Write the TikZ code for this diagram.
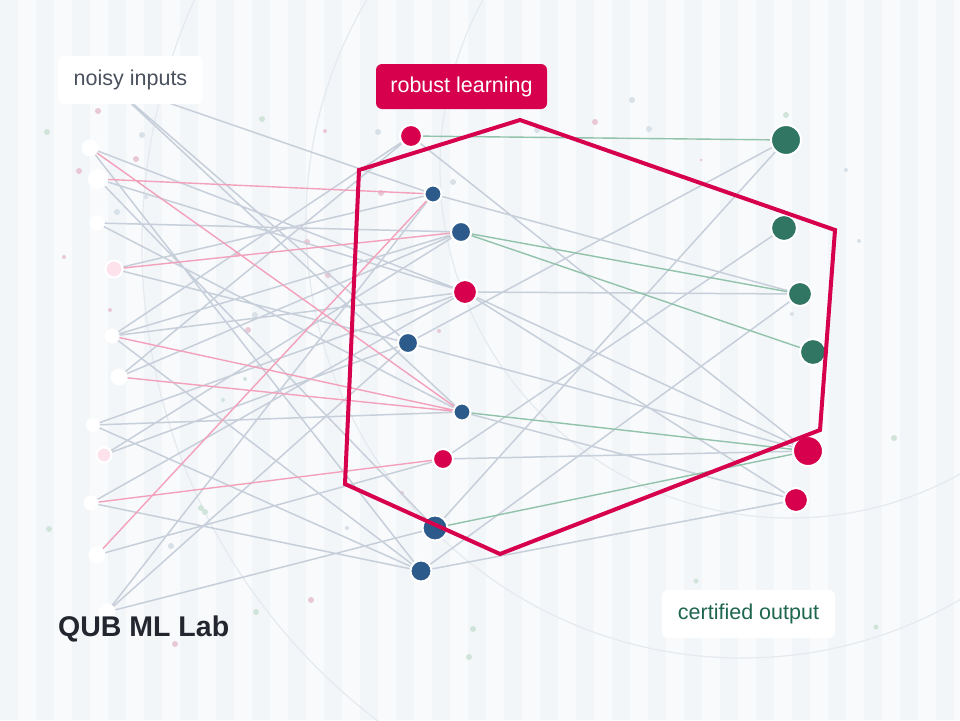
\documentclass[tikz,border=0pt]{standalone}
\usepackage{fontspec}
\setmainfont{Liberation Sans}
\usepackage{xcolor}
\usepackage{tikz}
\usetikzlibrary{backgrounds}

\pgfdeclarelayer{wires}
\pgfsetlayers{background,wires,main}

\definecolor{bgcol}{RGB}{243,246,249}
\definecolor{stripecol}{RGB}{248,250,252}
\definecolor{arccol}{RGB}{229,234,239}
\definecolor{crimson}{RGB}{214,0,76}
\definecolor{navy}{RGB}{44,90,138}
\definecolor{pine}{RGB}{48,118,99}
\definecolor{blush}{RGB}{253,226,235}
\definecolor{edgegray}{RGB}{199,207,218}
\definecolor{edgepink}{RGB}{243,160,186}
\definecolor{edgegreen}{RGB}{145,194,170}
\definecolor{dotpink}{RGB}{232,200,212}
\definecolor{dotgreen}{RGB}{208,228,217}
\definecolor{dotblue}{RGB}{216,224,232}
\definecolor{inkgray}{RGB}{74,81,93}
\definecolor{inkgreen}{RGB}{30,102,80}
\definecolor{inkdark}{RGB}{35,38,46}

\begin{document}
\begin{tikzpicture}[x=1pt, y=-1pt,
  font=\fontsize{21.5}{26}\selectfont,
  innode/.style={circle, fill=white, draw=white, line width=1pt, inner sep=0pt, minimum size=#1},
  noisenode/.style={circle, fill=blush, draw=white, line width=2pt, inner sep=0pt, minimum size=#1},
  redunit/.style={circle, fill=crimson, draw=white, line width=2pt, inner sep=0pt, minimum size=#1},
  blueunit/.style={circle, fill=navy, draw=white, line width=2pt, inner sep=0pt, minimum size=#1},
  greenunit/.style={circle, fill=pine, draw=white, line width=2pt, inner sep=0pt, minimum size=#1},
  tagbox/.style={rounded corners=6pt, inner sep=0pt, align=center},
  wire/.style={edgegray, line width=1.5pt},
  noisywire/.style={edgepink, line width=1.4pt},
  certwire/.style={edgegreen, line width=1.4pt}]
\useasboundingbox (0,0) rectangle (960,720);
% backdrop: stripes, faint rings, specks
\begin{scope}[on background layer]
\fill[bgcol] (0,0) rectangle (960,720);
\foreach \k in {0,...,26} \fill[stripecol] ({18+36*\k},0) rectangle ++(18,720);
\draw[arccol, line width=1.2pt] (742,222) circle (436) (790,168) circle (350) (740,245) circle (598);
\fill[dotpink] (98,111) circle (3) (136,159) circle (3) (79,171) circle (3) (64,257) circle (2)
  (110,310) circle (2) (325,131) circle (2) (381,193) circle (3) (307,242) circle (3)
  (328,275) circle (3) (248,330) circle (3) (237,254) circle (3) (439,331) circle (2)
  (595,122) circle (3) (701,160) circle (1.5) (175,644) circle (3) (311,600) circle (3)
  (402,493) circle (2);
\fill[dotgreen] (47,132) circle (3) (262,119) circle (3) (786,115) circle (3) (49,529) circle (3)
  (201,508) circle (3) (205,512) circle (3) (256,612) circle (3) (473,629) circle (3)
  (469,657) circle (3) (894,438) circle (3) (696,581) circle (2.5) (876,627) circle (2.5)
  (245,379) circle (2) (223,400) circle (2);
\fill[dotblue] (142,135) circle (3) (117,212) circle (3) (146,197) circle (2) (378,132) circle (3)
  (453,182) circle (3) (255,315) circle (3) (632,100) circle (3) (649,129) circle (3)
  (846,170) circle (2) (859,241) circle (2) (792,314) circle (2) (537,130) circle (3)
  (171,546) circle (3) (347,528) circle (2);
\end{scope}
% input layer
\coordinate (i0) at (108,82);
\node[innode=16pt] (i1) at (90,148) {};
\node[innode=19pt] (i2) at (98,179) {};
\node[innode=14pt] (i3) at (97,223) {};
\node[noisenode=17pt] (i4) at (114,269) {};
\node[innode=14pt] (i5) at (112,336) {};
\node[innode=16pt] (i6) at (119,377) {};
\node[innode=13pt] (i7) at (93,425) {};
\node[noisenode=15pt] (i8) at (104,455) {};
\node[innode=14pt] (i9) at (91,503) {};
\node[innode=16pt] (i10) at (97,555) {};
\node[innode=16pt] (i11) at (107,612) {};
% hidden layer
\node[redunit=22pt] (h1) at (411,136) {};
\node[blueunit=17pt] (h2) at (433,194) {};
\node[blueunit=20pt] (h3) at (461,232) {};
\node[redunit=24pt] (h4) at (465,292) {};
\node[blueunit=20pt] (h5) at (408,343) {};
\node[blueunit=17pt] (h6) at (462,412) {};
\node[redunit=20pt] (h7) at (443,459) {};
\node[blueunit=25pt] (h8) at (435,528) {};
\node[blueunit=21pt] (h9) at (421,571) {};
% output layer
\node[greenunit=30pt] (o1) at (786,140) {};
\node[greenunit=26pt] (o2) at (784,228) {};
\node[greenunit=24pt] (o3) at (800,294) {};
\node[greenunit=26pt] (o4) at (813,352) {};
\node[redunit=30pt] (o5) at (808,451) {};
\node[redunit=24pt] (o6) at (796,500) {};
% connections
\begin{pgfonlayer}{wires}
\draw[wire] (i0)--(h2) (i0)--(h5) (i0)--(h6) (i1)--(h4) (i1)--(h9) (i2)--(h4) (i2)--(h8)
  (i3)--(h3) (i3)--(h6) (i4)--(h2) (i4)--(h5) (i5)--(h1) (i5)--(h3) (i5)--(h4) (i5)--(h9)
  (i6)--(h1) (i6)--(h3) (i7)--(h4) (i7)--(h6) (i7)--(h9) (i8)--(h3) (i8)--(h5)
  (i9)--(h4) (i9)--(h9) (i10)--(h7) (i11)--(h2) (i11)--(h5) (i11)--(h8);
\draw[wire] (h1)--(o5) (h2)--(o3) (h4)--(o3) (h4)--(o5) (h4)--(o6) (h5)--(o1) (h5)--(o5)
  (h6)--(o6) (h7)--(o2) (h7)--(o5) (h8)--(o1) (h9)--(o3) (h9)--(o6);
\draw[noisywire] (i1)--(h6) (i2)--(h2) (i4)--(h3) (i5)--(h6) (i6)--(h6) (i9)--(h7) (i10)--(h2);
\draw[certwire] (h1)--(o1) (h3)--(o3) (h3)--(o4) (h6)--(o5) (h8)--(o5);
\end{pgfonlayer}
% robust region
\draw[crimson, line width=4pt, line join=miter] (359,170) -- (520,120) -- (835,230) -- (820,430)
  -- (500,554) -- (345,484) -- cycle;
% labels
\node[tagbox, fill=white, text=inkgray, minimum width=145pt, minimum height=48pt] (noisylbl) at (130.5,80) {noisy inputs};
\node[tagbox, fill=crimson, text=white, minimum width=171pt, minimum height=45pt] (robustlbl) at (461.5,86.5) {robust learning};
\node[tagbox, fill=white, text=inkgreen, minimum width=173pt, minimum height=48pt] (certlbl) at (748.5,614) {certified output};
\node[anchor=base west, inner sep=0pt, text=inkdark, font=\fontsize{28.5}{34}\selectfont\bfseries] (lablogo) at (58,636) {QUB ML Lab};
\end{tikzpicture}
\end{document}
